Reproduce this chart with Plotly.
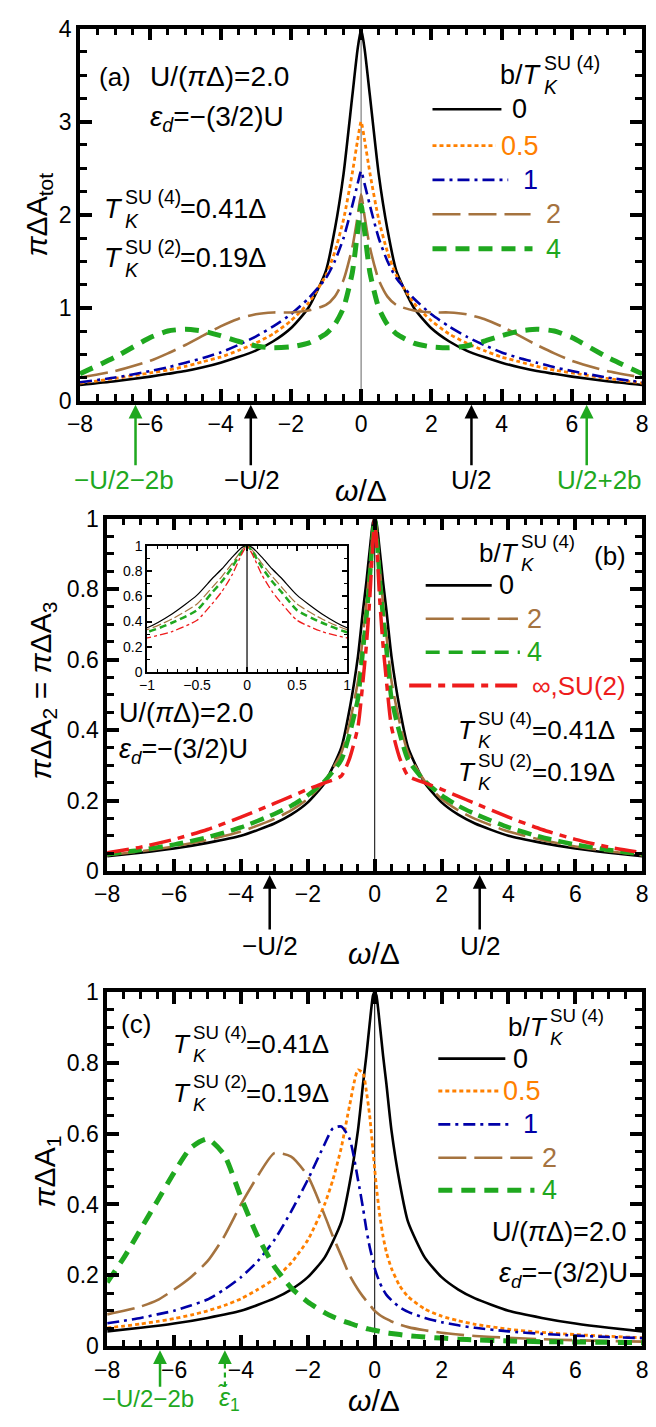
import plotly.graph_objects as go

W, H = 656, 1427
FONT = "Liberation Sans, Arial, Helvetica, sans-serif"

BLACK = "#000000"
ORANGE = "#FF8000"
BLUE = "#0000A8"
BROWN = "#A5733F"
GREEN = "#1FA81F"
RED = "#EE1C1C"
GRAY = "#888888"

# ---------------- panel (a): total spectral function pi*Delta*A_tot ----------------
omega_a = [-8, -7, -6, -5.5, -5, -4.5, -4, -3.5, -3, -2.5, -2, -1.5, -1, -0.75, -0.5, -0.25, -0.1,
           0, 0.1, 0.25, 0.5, 0.75, 1, 1.5, 2, 2.5, 3, 3.5, 4, 4.5, 5, 5.5, 6, 7, 8]
atot_b0 = [0.17, 0.21, 0.26, 0.29, 0.32, 0.36, 0.41, 0.47, 0.54, 0.64, 0.78, 1.0, 1.4, 1.84, 2.44, 3.28, 3.78,
           4.0, 3.78, 3.28, 2.44, 1.84, 1.4, 1.0, 0.78, 0.64, 0.54, 0.47, 0.41, 0.36, 0.32, 0.29, 0.26, 0.21, 0.17]
atot_b05 = [0.19, 0.24, 0.3, 0.33, 0.37, 0.42, 0.47, 0.54, 0.62, 0.72, 0.86, 1.05, 1.35, 1.6, 1.95, 2.45, 2.8,
            3.0, 2.8, 2.45, 1.95, 1.6, 1.35, 1.05, 0.86, 0.72, 0.62, 0.54, 0.47, 0.42, 0.37, 0.33, 0.3, 0.24, 0.19]
atot_b1 = [0.2, 0.25, 0.32, 0.36, 0.41, 0.46, 0.52, 0.6, 0.69, 0.8, 0.93, 1.1, 1.32, 1.5, 1.75, 2.1, 2.33,
           2.47, 2.33, 2.1, 1.75, 1.5, 1.32, 1.1, 0.93, 0.8, 0.69, 0.6, 0.52, 0.46, 0.41, 0.36, 0.32, 0.25, 0.2]
atot_b2 = [0.25, 0.32, 0.43, 0.51, 0.6, 0.7, 0.8, 0.88, 0.93, 0.95, 0.95, 0.97, 1.03, 1.12, 1.3, 1.65, 1.98,
           2.22, 1.98, 1.65, 1.3, 1.12, 1.03, 0.97, 0.95, 0.95, 0.93, 0.88, 0.8, 0.7, 0.6, 0.51, 0.43, 0.32, 0.25]
atot_b4 = [0.29, 0.47, 0.68, 0.75, 0.77, 0.75, 0.7, 0.64, 0.59, 0.57, 0.58, 0.62, 0.72, 0.82, 1.0, 1.38, 1.82,
           2.1, 1.82, 1.38, 1.0, 0.82, 0.72, 0.62, 0.58, 0.57, 0.59, 0.64, 0.7, 0.75, 0.77, 0.75, 0.68, 0.47, 0.29]

# ---------------- panel (b): pi*Delta*A_2 = pi*Delta*A_3 ----------------
omega_b = [-8, -7, -6, -5, -4, -3, -2.5, -2, -1.5, -1, -0.75, -0.5, -0.35, -0.25, -0.15, -0.05,
           0, 0.05, 0.15, 0.25, 0.35, 0.5, 0.75, 1, 1.5, 2, 2.5, 3, 4, 5, 6, 7, 8]
a2_b0 = [0.042, 0.052, 0.064, 0.08, 0.1, 0.135, 0.16, 0.195, 0.25, 0.35, 0.46, 0.61, 0.74, 0.82, 0.91, 0.99,
         1.0, 0.99, 0.91, 0.82, 0.74, 0.61, 0.46, 0.35, 0.25, 0.195, 0.16, 0.135, 0.1, 0.08, 0.064, 0.052, 0.042]
a2_b2 = [0.045, 0.056, 0.07, 0.088, 0.112, 0.148, 0.172, 0.205, 0.255, 0.335, 0.42, 0.54, 0.67, 0.76, 0.86, 0.97,
         1.0, 0.97, 0.86, 0.76, 0.67, 0.54, 0.42, 0.335, 0.255, 0.205, 0.172, 0.148, 0.112, 0.088, 0.07, 0.056, 0.045]
a2_b4 = [0.048, 0.06, 0.075, 0.096, 0.124, 0.162, 0.185, 0.215, 0.255, 0.315, 0.39, 0.49, 0.63, 0.72, 0.83, 0.96,
         1.0, 0.96, 0.83, 0.72, 0.63, 0.49, 0.39, 0.315, 0.255, 0.215, 0.185, 0.162, 0.124, 0.096, 0.075, 0.06, 0.048]
a2_su2 = [0.052, 0.068, 0.09, 0.118, 0.153, 0.192, 0.212, 0.232, 0.25, 0.27, 0.32, 0.41, 0.54, 0.64, 0.77, 0.94,
          1.0, 0.94, 0.77, 0.64, 0.54, 0.41, 0.32, 0.27, 0.25, 0.232, 0.212, 0.192, 0.153, 0.118, 0.09, 0.068, 0.052]

# ---------------- panel (c): pi*Delta*A_1 ----------------
omega_c = [-8, -7.5, -7, -6.5, -6, -5.5, -5, -4.5, -4, -3.5, -3, -2.5, -2, -1.5, -1.25, -1, -0.75, -0.5,
           -0.35, -0.25, -0.15, -0.05, 0, 0.05, 0.15, 0.25, 0.35, 0.5, 0.75, 1, 1.5, 2, 2.5, 3, 4, 5, 6, 7, 8]
a1_b05 = [0.052, 0.057, 0.063, 0.07, 0.078, 0.088, 0.1, 0.115, 0.134, 0.16, 0.19, 0.235, 0.3, 0.4, 0.47, 0.56,
          0.68, 0.78, 0.77, 0.72, 0.65, 0.55, 0.5, 0.45, 0.37, 0.31, 0.265, 0.22, 0.17, 0.14, 0.105, 0.085,
          0.072, 0.062, 0.048, 0.039, 0.033, 0.028, 0.024]
a1_b1 = [0.065, 0.072, 0.08, 0.09, 0.1, 0.115, 0.132, 0.16, 0.195, 0.24, 0.3, 0.38, 0.47, 0.57, 0.615, 0.62,
         0.585, 0.47, 0.39, 0.33, 0.28, 0.24, 0.22, 0.205, 0.18, 0.16, 0.145, 0.13, 0.11, 0.097, 0.08, 0.068,
         0.059, 0.052, 0.042, 0.035, 0.03, 0.026, 0.023]
a1_b2 = [0.09, 0.1, 0.112, 0.13, 0.16, 0.195, 0.24, 0.31, 0.4, 0.48, 0.545, 0.535, 0.48, 0.37, 0.31, 0.255,
         0.2, 0.16, 0.14, 0.128, 0.117, 0.105, 0.1, 0.096, 0.088, 0.082, 0.077, 0.07, 0.061, 0.054, 0.045, 0.038,
         0.033, 0.029, 0.024, 0.02, 0.017, 0.015, 0.013]
a1_b4 = [0.18, 0.25, 0.33, 0.41, 0.49, 0.56, 0.585, 0.54, 0.42, 0.31, 0.225, 0.165, 0.125, 0.095, 0.083, 0.073,
         0.065, 0.057, 0.053, 0.05, 0.048, 0.046, 0.045, 0.044, 0.042, 0.04, 0.038, 0.036, 0.033, 0.03, 0.026,
         0.023, 0.02, 0.018, 0.015, 0.013, 0.012, 0.011, 0.01]

# characteristic energies marked below the axes (units of Delta)
U_HALF = 3.14          # U/2
U_HALF_2B = 6.42       # U/2 + 2b for b = 4 T_K
EPS1_TILDE = -4.48     # renormalised level of orbital 1

# line styles: (colour, width, dash)
ST_B0 = (BLACK, 2.6, "solid")
ST_B05 = (ORANGE, 2.8, "4px,3px")
ST_B1 = (BLUE, 2.6, "12px,5px,3px,5px")
ST_B2 = (BROWN, 2.6, "28px,8px")
ST_B4 = (GREEN, 5, "14px,9px")
ST_B4_THIN = (GREEN, 4.5, "14px,7px")
ST_SU2 = (RED, 3.5, "22px,7px,7px,7px")


def fx(px):
    return px / W


def fy(py):
    return 1 - py / H


fig = go.Figure()


def curve(x, y, xa, ya, style, width=None, dash=None):
    color, w, d = style
    fig.add_trace(go.Scatter(
        x=x, y=y, xaxis=xa, yaxis=ya, mode="lines",
        line=dict(color=color, width=width or w, dash=dash or d, shape="spline", smoothing=0.6),
        showlegend=False, hoverinfo="skip"))


# panel (a)
curve(omega_a, atot_b0, "x", "y", ST_B0)
curve(omega_a, atot_b05, "x", "y", ST_B05)
curve(omega_a, atot_b1, "x", "y", ST_B1)
curve(omega_a, atot_b2, "x", "y", ST_B2)
curve(omega_a, atot_b4, "x", "y", ST_B4)

# panel (b)
curve(omega_b, a2_b0, "x2", "y2", ST_B0)
curve(omega_b, a2_b2, "x2", "y2", ST_B2)
curve(omega_b, a2_b4, "x2", "y2", ST_B4_THIN)
curve(omega_b, a2_su2, "x2", "y2", ST_SU2)

# inset of panel (b): same data, |omega| <= 1
curve(omega_b, a2_b0, "x4", "y4", ST_B0, width=1.2)
curve(omega_b, a2_b2, "x4", "y4", ST_B2, width=1.2, dash="9px,3px")
curve(omega_b, a2_b4, "x4", "y4", ST_B4, width=2.5, dash="7px,4px")
curve(omega_b, a2_su2, "x4", "y4", ST_SU2, width=1.3, dash="8px,3px,3px,3px")

# panel (c)
curve(omega_b, a2_b0, "x3", "y3", ST_B0)
curve(omega_c, a1_b05, "x3", "y3", ST_B05)
curve(omega_c, a1_b1, "x3", "y3", ST_B1)
curve(omega_c, a1_b2, "x3", "y3", ST_B2)
curve(omega_c, a1_b4, "x3", "y3", ST_B4)


def axis(domain, anchor, rng, dtick, minor, size=23, tlen=12, twid=3.5, lw=3.5, mlen=7, mwid=2.5):
    return dict(
        domain=domain, anchor=anchor, range=rng, dtick=dtick, tick0=0,
        showline=True, linewidth=lw, linecolor=BLACK, mirror="ticks",
        ticks="inside", ticklen=tlen, tickwidth=twid, tickcolor=BLACK,
        showgrid=False, zeroline=False, fixedrange=True,
        tickfont=dict(family=FONT, size=size, color=BLACK),
        minor=dict(ticks="inside", ticklen=mlen, tickwidth=mwid, tickcolor=BLACK,
                   dtick=minor, tick0=0, showgrid=False),
    )


fig.update_layout(
    width=W, height=H, margin=dict(l=0, r=0, t=0, b=0),
    paper_bgcolor="white", plot_bgcolor="white", showlegend=False,
    font=dict(family=FONT, color=BLACK),
    xaxis=axis([fx(69), fx(648)], "y", [-8, 8], 2, 0.5),
    yaxis=axis([fy(395), fy(16)], "x", [0, 4], 1, 0.25),
    xaxis2=axis([fx(97), fx(648)], "y2", [-8, 8], 2, 0.5),
    yaxis2=axis([fy(874), fy(515)], "x2", [0, 1], 0.2, 0.05),
    xaxis3=axis([fx(97), fx(648)], "y3", [-8, 8], 2, 0.5),
    yaxis3=axis([fy(1358), fy(997)], "x3", [0, 1], 0.2, 0.05),
    xaxis4=axis([fx(138), fx(344)], "y4", [-1, 1], 0.5, 0.1, size=14, tlen=5, twid=1.5, lw=1.5, mlen=3, mwid=1),
    yaxis4=axis([fy(671), fy(543)], "x4", [0, 1], 0.2, 0.1, size=14, tlen=5, twid=1.5, lw=1.5, mlen=3, mwid=1),
)

# vertical reference lines at omega = 0
fig.add_shape(type="line", xref="x", yref="y", x0=0, x1=0, y0=0, y1=4,
              line=dict(color=GRAY, width=1.3), layer="below")
fig.add_shape(type="line", xref="x2", yref="y2", x0=0, x1=0, y0=0, y1=1,
              line=dict(color=BLACK, width=1), layer="below")
fig.add_shape(type="line", xref="x3", yref="y3", x0=0, x1=0, y0=0, y1=1,
              line=dict(color=BLACK, width=1), layer="below")
fig.add_shape(type="line", xref="x4", yref="y4", x0=0, x1=0, y0=0, y1=1,
              line=dict(color=BLACK, width=1.2), layer="below")


def text(px, py, s, size=26, color=BLACK, xanchor="left", yanchor="middle", angle=0):
    fig.add_annotation(x=fx(px), y=fy(py), xref="paper", yref="paper", text=s, showarrow=False,
                       font=dict(family=FONT, size=size, color=color), xanchor=xanchor,
                       yanchor=yanchor, textangle=angle, borderpad=0)


def t_k(xr, y0, group, tail="", size=26, prefix=""):
    """Draw [prefix]T_K^{SU(n)}[tail]; the T ends at xr, sub/superscript stacked after it."""
    text(xr, y0, prefix + "<i>T</i>", size, xanchor="right")
    small = 0.72 * size
    text(xr, y0 + 0.45 * size, "<i>K</i>", small)
    text(xr, y0 - 0.45 * size, f"SU ({group})", small)
    if tail:
        text(xr + 2.95 * small, y0, tail, size)


def sample(x0, x1, py, style, width=None):
    color, w, d = style
    fig.add_shape(type="line", xref="paper", yref="paper", x0=fx(x0), x1=fx(x1), y0=fy(py), y1=fy(py),
                  line=dict(color=color, width=width or w, dash=d))


U_TXT = "U/(<i>π</i>Δ)=2.0"
ED_TXT = "<i>ε</i><sub><i>d</i></sub>=−(3/2)U"

# ---- panel (a) texts ----
text(88, 65, "(a)", 26)
text(140, 65, U_TXT, 28)
text(140, 107, ED_TXT, 28)
t_k(114, 200, 4, "=0.41Δ", 27)
t_k(114, 250, 2, "=0.19Δ", 27)
t_k(546, 63, 4, "", 27, prefix="b/")
sample(432, 503, 98, ST_B0)
text(522, 98, "0", 27, BLACK, "center")
sample(432, 497, 135, ST_B05)
text(522, 135, "0.5", 27, ORANGE, "center")
sample(432, 510, 170, ST_B1)
text(533, 170, "1", 27, BLUE, "center")
sample(432, 533, 205, ST_B2)
text(557, 205, "2", 27, BROWN, "center")
sample(432, 535, 240, ST_B4)
text(557, 240, "4", 27, GREEN, "center")

# ---- panel (b) texts ----
text(597, 553, "(b)", 26)
t_k(522, 550, 4, "", 26, prefix="b/")
sample(425, 493, 583, ST_B0)
text(508, 583, "0", 27, BLACK, "center")
sample(425, 520, 617, ST_B2)
text(537, 617, "2", 27, BROWN, "center")
sample(425, 522, 651, ST_B4, width=3.5)
text(537, 651, "4", 27, GREEN, "center")
sample(408, 520, 685, ST_SU2, width=4)
text(533, 685, "∞,SU(2)", 26, RED)
t_k(478, 730, 4, "=0.41Δ", 26)
t_k(478, 773, 2, "=0.19Δ", 26)
text(108, 713, U_TXT, 27)
text(108, 752, ED_TXT, 27)

# ---- panel (c) texts ----
text(110, 1030, "(c)", 26)
t_k(184, 1050, 4, "=0.41Δ", 26)
t_k(184, 1100, 2, "=0.19Δ", 26)
t_k(552, 1033, 4, "", 26, prefix="b/")
sample(438, 507, 1065, ST_B0)
text(523, 1065, "0", 27, BLACK, "center")
sample(438, 500, 1098, ST_B05)
text(524, 1098, "0.5", 27, ORANGE, "center")
sample(438, 513, 1132, ST_B1)
text(533, 1132, "1", 27, BLUE, "center")
sample(438, 535, 1166, ST_B2)
text(552, 1166, "2", 27, BROWN, "center")
sample(438, 537, 1199, ST_B4)
text(552, 1199, "4", 27, GREEN, "center")
text(632, 1242, U_TXT, 27, xanchor="right")
text(634, 1285, ED_TXT, 27, xanchor="right")

# ---- axis titles ----
text(26, 205, "<i>π</i>ΔA<sub>tot</sub>", 30, angle=-90, xanchor="center")
text(30, 690, "<i>π</i>ΔA<sub>2</sub> = <i>π</i>ΔA<sub>3</sub>", 30, angle=-90, xanchor="center")
text(34, 1180, "<i>π</i>ΔA<sub>1</sub>", 30, angle=-90, xanchor="center")
text(358, 486, "<i>ω</i>/Δ", 30, xanchor="center")
text(372, 958, "<i>ω</i>/Δ", 30, xanchor="center")
text(372, 1413, "<i>ω</i>/Δ", 30, xanchor="center")


# ---- arrows marking characteristic energies ----
def arrow(xref, xval, tip, length, color, label=None, label_y=None, shift=0, size=26):
    fig.add_annotation(x=xval, xref=xref, y=fy(tip), yref="paper", text="", showarrow=True,
                       ax=0, ay=length, axref="pixel", ayref="pixel", arrowhead=2, arrowsize=1.1,
                       arrowwidth=2.5, arrowcolor=color, standoff=0, startstandoff=0)
    if label:
        fig.add_annotation(x=xval, xref=xref, y=fy(label_y), yref="paper", text=label, showarrow=False,
                           xshift=shift, font=dict(family=FONT, size=size, color=color),
                           xanchor="center", yanchor="middle")


arrow("x", -U_HALF_2B, 399, 62, GREEN, "−U/2−2b", 476, -12)
arrow("x", -U_HALF, 399, 62, BLACK, "−U/2", 476, 1)
arrow("x", U_HALF, 399, 62, BLACK, "U/2", 476, 0)
arrow("x", U_HALF_2B, 399, 62, GREEN, "U/2+2b", 476, 13)

arrow("x2", -U_HALF, 878, 56, BLACK, "−U/2", 950, 0)
arrow("x2", U_HALF, 878, 56, BLACK, "U/2", 950, 0)

arrow("x3", -U_HALF_2B, 1362, 38, GREEN, "−U/2−2b", 1411, -12, size=24)
# dashed arrow for the renormalised level
fig.add_shape(type="line", xref="x3", yref="paper", x0=EPS1_TILDE, x1=EPS1_TILDE,
              y0=fy(1399), y1=fy(1372), line=dict(color=GREEN, width=2.2, dash="5px,4px"))
arrow("x3", EPS1_TILDE, 1362, 12, GREEN)
fig.add_annotation(x=EPS1_TILDE, xref="x3", y=fy(1412), yref="paper",
                   text="<i>ε̃</i><sub>1</sub>", showarrow=False, xshift=4,
                   font=dict(family=FONT, size=25, color=GREEN), xanchor="center", yanchor="middle")

fig.write_html("out.html")
